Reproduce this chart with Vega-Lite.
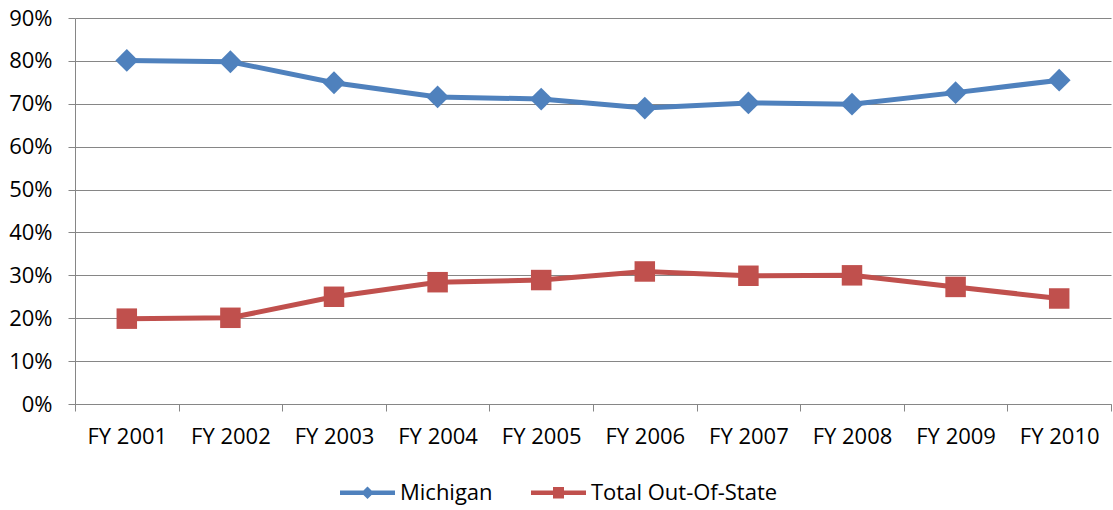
{
  "$schema": "https://vega.github.io/schema/vega-lite/v6.json",
  "width": 1036,
  "height": 386,
  "autosize": {"type": "none"},
  "padding": {"left": 75, "top": 18, "right": 2, "bottom": 106},
  "background": "white",
  "config": {"font": "Open Sans", "view": {"stroke": null}},
  "data": {
    "values": [
      {"year": "FY 2001", "series": "Michigan", "value": 0.801},
      {"year": "FY 2002", "series": "Michigan", "value": 0.798},
      {"year": "FY 2003", "series": "Michigan", "value": 0.749},
      {"year": "FY 2004", "series": "Michigan", "value": 0.716},
      {"year": "FY 2005", "series": "Michigan", "value": 0.711},
      {"year": "FY 2006", "series": "Michigan", "value": 0.690},
      {"year": "FY 2007", "series": "Michigan", "value": 0.702},
      {"year": "FY 2008", "series": "Michigan", "value": 0.699},
      {"year": "FY 2009", "series": "Michigan", "value": 0.726},
      {"year": "FY 2010", "series": "Michigan", "value": 0.755},
      {"year": "FY 2001", "series": "Total Out-Of-State", "value": 0.199},
      {"year": "FY 2002", "series": "Total Out-Of-State", "value": 0.201},
      {"year": "FY 2003", "series": "Total Out-Of-State", "value": 0.250},
      {"year": "FY 2004", "series": "Total Out-Of-State", "value": 0.284},
      {"year": "FY 2005", "series": "Total Out-Of-State", "value": 0.289},
      {"year": "FY 2006", "series": "Total Out-Of-State", "value": 0.309},
      {"year": "FY 2007", "series": "Total Out-Of-State", "value": 0.299},
      {"year": "FY 2008", "series": "Total Out-Of-State", "value": 0.300},
      {"year": "FY 2009", "series": "Total Out-Of-State", "value": 0.273},
      {"year": "FY 2010", "series": "Total Out-Of-State", "value": 0.246}
    ]
  },
  "encoding": {
    "x": {
      "field": "year", "type": "ordinal", "sort": null,
      "scale": {"type": "band", "paddingInner": 0, "paddingOuter": 0},
      "axis": {
        "title": null, "tickBand": "extent", "labelAngle": 0, "labelFontSize": 22,
        "labelColor": "#000000", "domainColor": "#868686", "tickColor": "#868686",
        "tickSize": 7, "labelPadding": 15, "grid": false
      }
    },
    "y": {
      "field": "value", "type": "quantitative",
      "scale": {"domain": [0, 0.9]},
      "axis": {
        "format": ".0%", "values": [0, 0.1, 0.2, 0.3, 0.4, 0.5, 0.6, 0.7, 0.8, 0.9],
        "title": null, "gridColor": "#868686", "gridOpacity": 1, "domainColor": "#868686",
        "tickColor": "#868686", "tickSize": 7, "labelFontSize": 22, "labelColor": "#000000",
        "labelPadding": 16
      }
    },
    "color": {
      "field": "series", "type": "nominal",
      "sort": ["Michigan", "Total Out-Of-State"],
      "scale": {"range": ["#4F81BD", "#C0504D"]},
      "legend": {
        "title": null, "orient": "none", "direction": "horizontal", "columns": 2,
        "legendX": 265, "legendY": 447, "symbolSize": 3025, "labelFontSize": 22,
        "labelColor": "#000000", "labelOffset": 5, "columnPadding": 38, "labelLimit": 400,
        "encode": {
          "symbols": {
            "update": {
              "shape": {"signal": "datum.value === 'Michigan' ? 'M-1,-0.08L1,-0.08L1,0.08L-1,0.08Z M-0.23,0L0,-0.23L0.23,0L0,0.23Z' : 'M-1,-0.08L1,-0.08L1,0.08L-1,0.08Z M-0.2,-0.21L0.2,-0.21L0.2,0.21L-0.2,0.21Z'"},
              "fill": {"signal": "datum.value === 'Michigan' ? '#4F81BD' : '#C0504D'"},
              "fillOpacity": {"value": 1},
              "strokeWidth": {"value": 0}
            }
          }
        }
      }
    }
  },
  "layer": [
    {"mark": {"type": "line", "strokeWidth": 5}},
    {
      "mark": {"type": "point", "filled": true, "opacity": 1},
      "encoding": {
        "shape": {"field": "series", "type": "nominal", "sort": ["Michigan", "Total Out-Of-State"], "scale": {"range": ["diamond", "square"]}, "legend": null},
        "size": {"field": "series", "type": "ordinal", "sort": ["Michigan", "Total Out-Of-State"], "scale": {"range": [520, 420]}, "legend": null}
      }
    }
  ]
}
